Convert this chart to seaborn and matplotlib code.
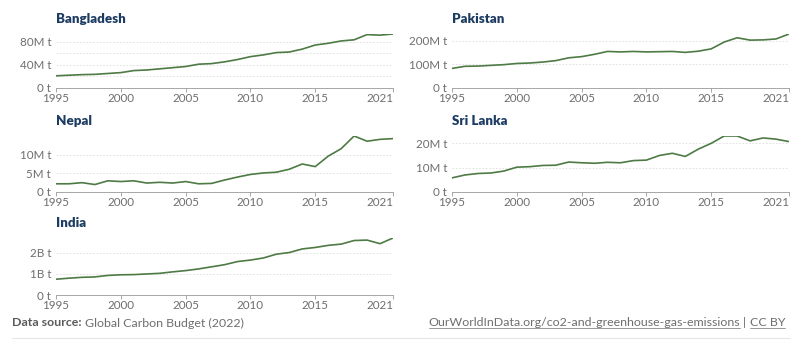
import matplotlib
matplotlib.use("Agg")
from matplotlib import pyplot as plt
from matplotlib.lines import Line2D
import pandas as pd
import seaborn as sns

# CO2 emissions, million tonnes
years = list(range(1995, 2022))
bangladesh = [21, 22, 23, 23.5, 25, 26.5, 30, 31, 33, 35, 37, 41, 42, 45, 49, 54,
              57, 61, 62, 67, 74, 77, 81, 83, 92, 91, 93]
pakistan = [83, 92, 93, 96, 99, 104, 106, 110, 116, 128, 133, 143, 155, 153, 155, 153,
            154, 155, 151, 156, 166, 195, 213, 203, 204, 208, 229]
nepal = [2.2, 2.2, 2.5, 2.0, 3.0, 2.8, 3.0, 2.4, 2.6, 2.4, 2.8, 2.2, 2.3, 3.2, 4.0, 4.7,
         5.1, 5.3, 6.1, 7.5, 6.8, 9.6, 11.6, 15.0, 13.6, 14.1, 14.3]
sri_lanka = [5.8, 7.0, 7.6, 7.8, 8.6, 10.2, 10.4, 10.9, 11.0, 12.3, 12.0, 11.8, 12.2,
             12.0, 12.9, 13.1, 15.0, 15.9, 14.6, 17.6, 20.0, 23.0, 23.0, 21.0, 22.2,
             21.7, 20.7]
india = [750, 800, 840, 860, 930, 960, 970, 1000, 1030, 1100, 1160, 1240, 1340, 1440,
         1590, 1660, 1760, 1940, 2020, 2190, 2260, 2360, 2420, 2590, 2610, 2440, 2710]

year_ticks = [1995, 2000, 2005, 2010, 2015, 2021]

# name, values, labelled ticks, extra gridlines
panels = [
    ("Bangladesh", bangladesh, [0, 40, 80], [20, 60]),
    ("Pakistan", pakistan, [0, 100, 200], []),
    ("Nepal", nepal, [0, 5, 10], []),
    ("Sri Lanka", sri_lanka, [0, 10, 20], []),
    ("India", india, [0, 1000, 2000], []),
]

# axes boxes in pixels: left, right, bottom (from top), height
boxes = [
    (56, 393, 88, 54),
    (452, 789, 88, 54),
    (56, 393, 192, 56),
    (452, 789, 192, 56),
    (56, 393, 295, 57),
]

W, H = 806, 350
line_color = "#4d7a45"
title_color = "#1d3c63"
tick_color = "#6e6e6e"
fs_tick = 8.4
fs_foot = 8.9


def fmt(v):
    if v == 0:
        return "0 t"
    if v >= 1000:
        return f"{v / 1000:g}B t"
    return f"{v:g}M t"


sns.set_style("white")
plt.rcParams["font.family"] = ["Lato", "DejaVu Sans"]

fig = plt.figure(figsize=(W / 100, H / 100), dpi=100)

for (name, vals, ticks, minor), (x0, x1, yb, h) in zip(panels, boxes):
    ax = fig.add_axes([x0 / W, 1 - yb / H, (x1 - x0) / W, h / H])
    df = pd.DataFrame({"year": years, "co2": vals})
    sns.lineplot(data=df, x="year", y="co2", ax=ax, color=line_color, linewidth=1.2)
    ax.set_xlim(1995, 2021)
    ax.set_ylim(0, max(vals))
    ax.set_xlabel("")
    ax.set_ylabel("")
    ax.set_yticks(ticks)
    ax.set_yticklabels([fmt(t) for t in ticks])
    ax.set_yticks(minor, minor=True)
    ax.set_xticks(year_ticks)
    ax.set_xticklabels([str(y) for y in year_ticks])
    ax.get_xticklabels()[-1].set_horizontalalignment("right")
    ax.tick_params(axis="y", length=0, labelsize=fs_tick, labelcolor=tick_color, pad=3.5)
    ax.tick_params(axis="y", which="minor", length=0)
    ax.tick_params(axis="x", length=3, width=0.6, color="#999999", labelsize=fs_tick,
                   labelcolor=tick_color, pad=0.5, bottom=True)
    ax.grid(False)
    ax.yaxis.grid(True, which="both", linestyle=(0, (2, 2)), color="#dddddd", linewidth=0.6)
    for s in ["top", "right", "left"]:
        ax.spines[s].set_visible(False)
    ax.spines["bottom"].set_color("#999999")
    ax.spines["bottom"].set_linewidth(0.6)
    ax.set_axisbelow(True)
    fig.text(x0 / W, 1 - (yb - h - 11) / H, name, fontsize=9.6, fontweight="heavy",
             color=title_color, ha="left", va="baseline")

# footer
fy = 1 - 323 / H
t1 = fig.text(12 / W, fy, "Data source:", fontsize=fs_foot, fontweight="bold",
              color="#5b5b5b", ha="left", va="center")
fig.canvas.draw()
r = fig.canvas.get_renderer()
bb = t1.get_window_extent(r)
fig.text((bb.x1 + 3) / W, fy, "Global Carbon Budget (2022)", fontsize=fs_foot,
         color="#6e6e6e", ha="left", va="center")

link = "OurWorldInData.org/co2-and-greenhouse-gas-emissions"
t3 = fig.text(785 / W, fy, "CC BY", fontsize=fs_foot, color="#6e6e6e",
              ha="right", va="center")
fig.canvas.draw()
bb3 = t3.get_window_extent(r)
sep = fig.text((bb3.x0 - 3) / W, fy, "|", fontsize=fs_foot, color="#6e6e6e",
               ha="right", va="center")
fig.canvas.draw()
bbs = sep.get_window_extent(r)
t2 = fig.text((bbs.x0 - 3) / W, fy, link, fontsize=fs_foot, color="#6e6e6e",
              ha="right", va="center")
fig.canvas.draw()
for t in (t2, t3):
    b = t.get_window_extent(r)
    fig.add_artist(Line2D([b.x0 / W, b.x1 / W], [(b.y0 + 0.5) / H, (b.y0 + 0.5) / H],
                          transform=fig.transFigure, color="#6e6e6e", linewidth=0.5))

fig.add_artist(Line2D([12 / W, 790 / W], [1 - 338 / H, 1 - 338 / H],
                      transform=fig.transFigure, color="#e6e6e6", linewidth=0.8))

fig.savefig("out.png", dpi=100)
